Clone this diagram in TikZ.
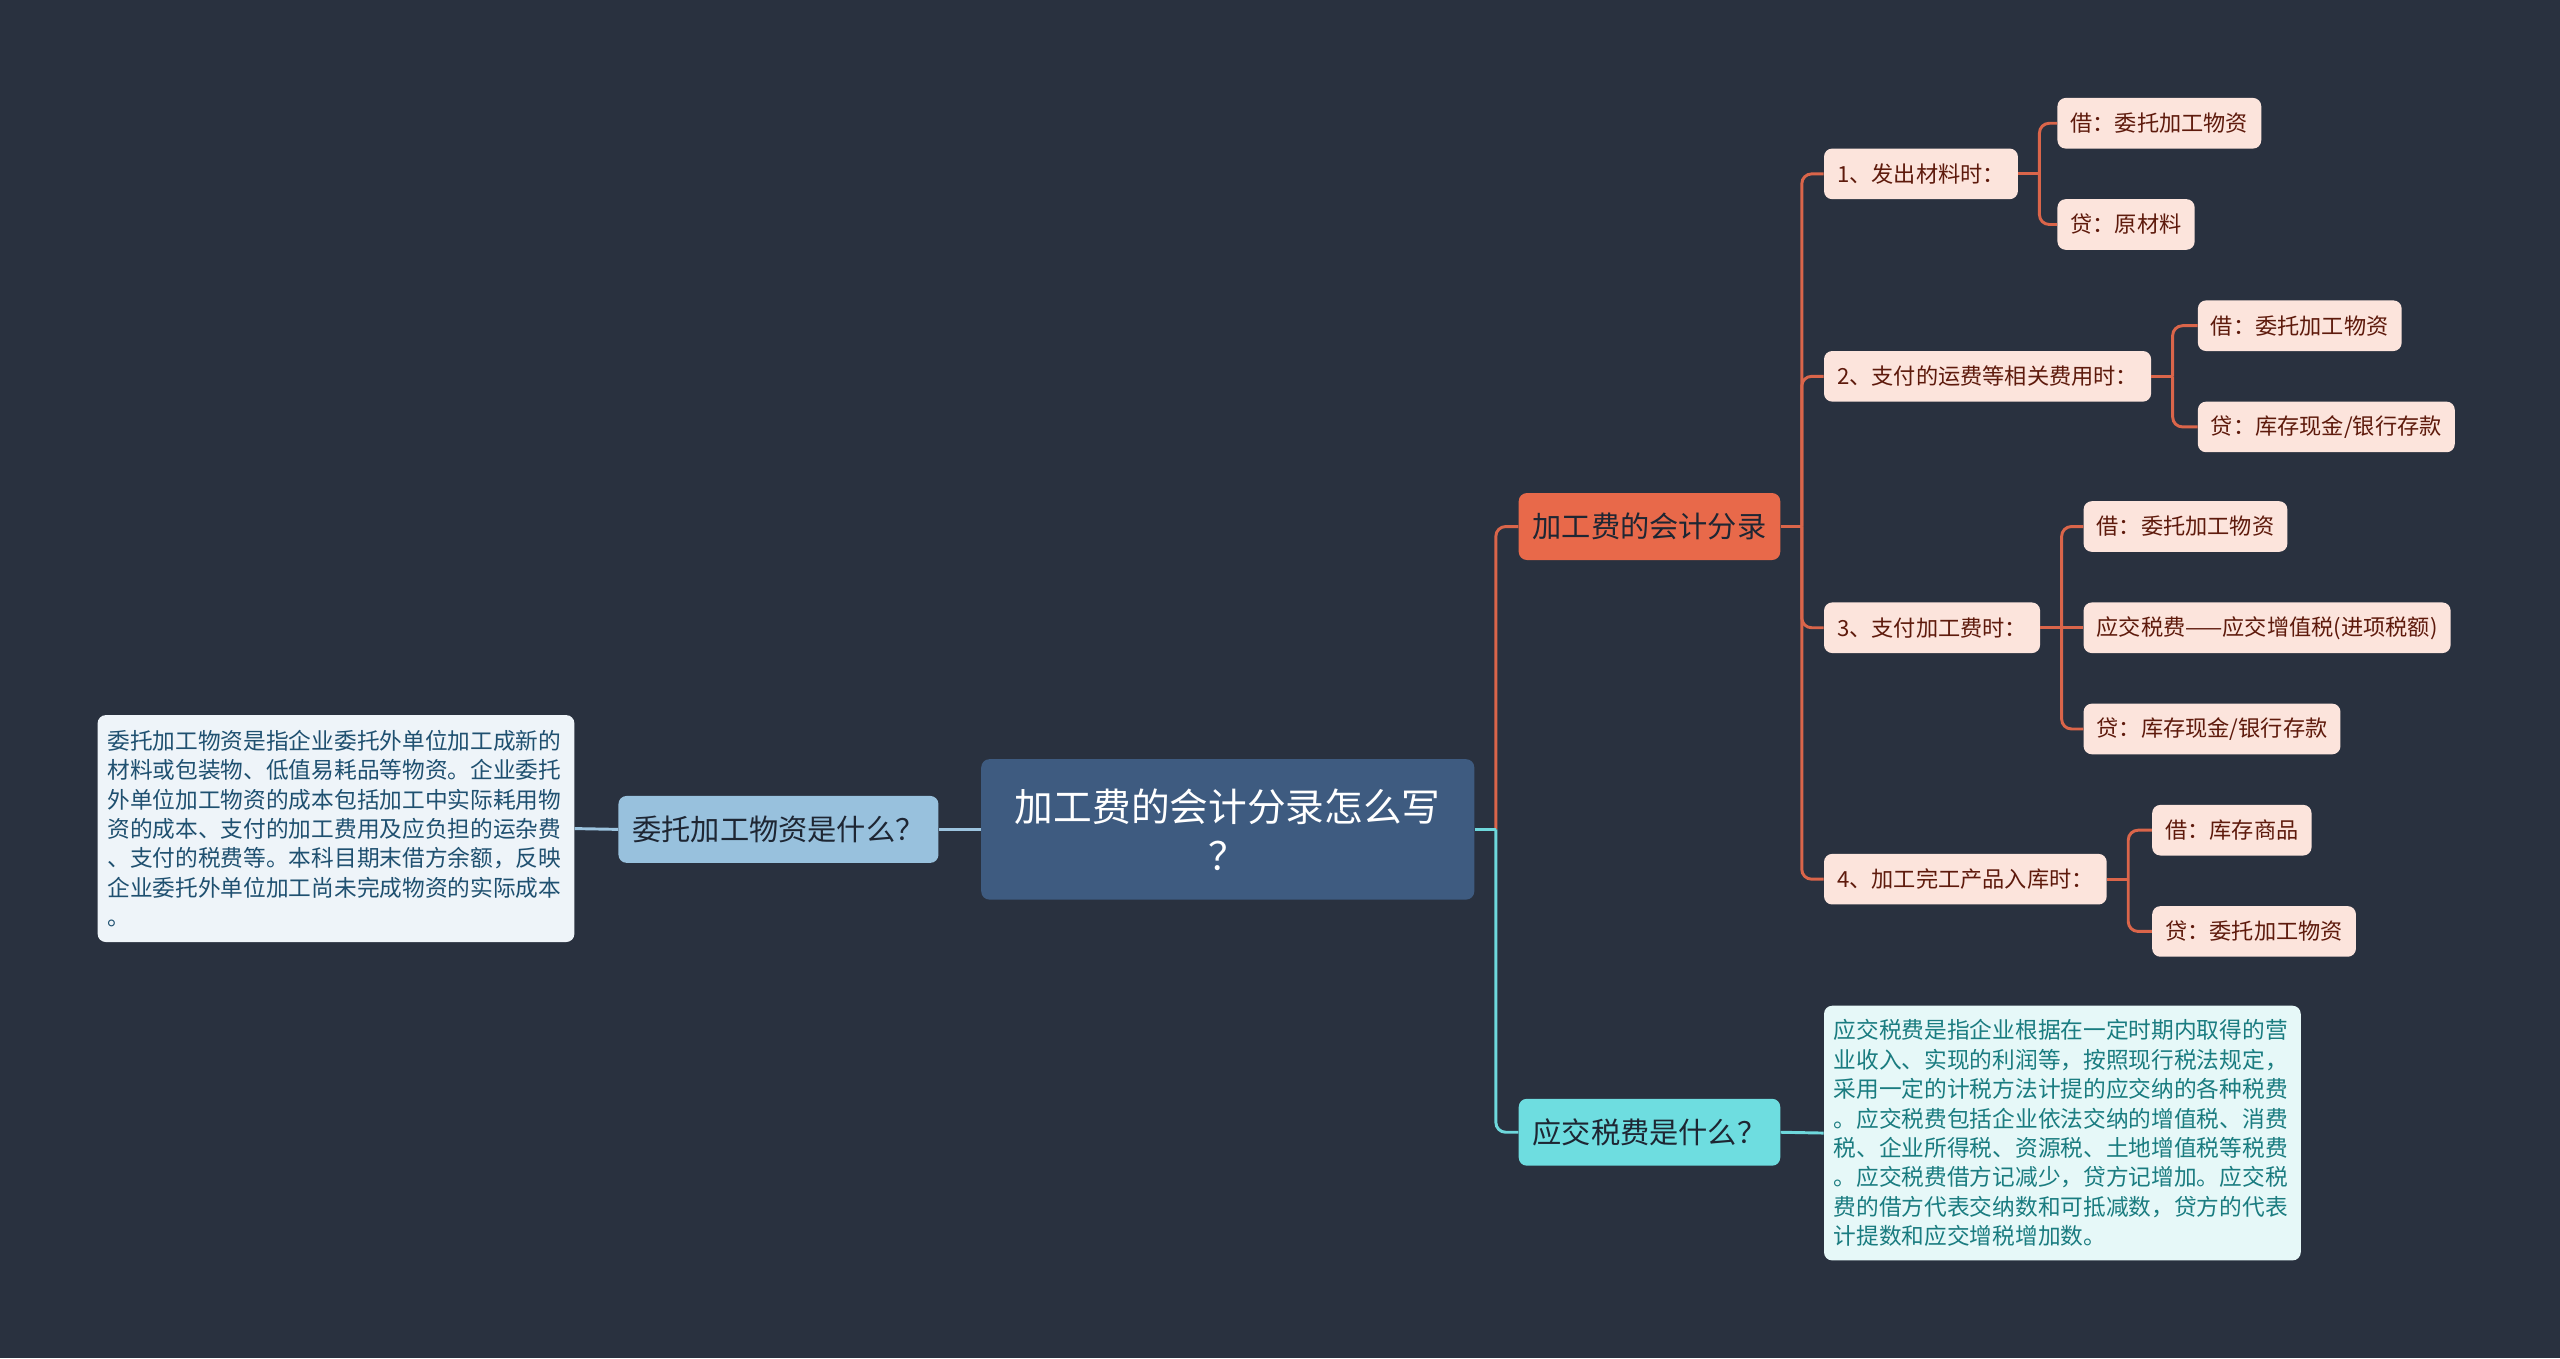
\documentclass[tikz,border=0pt]{standalone}
\usepackage{fontspec}
\setmainfont{Noto Sans CJK SC}
\usetikzlibrary{calc}
\definecolor{bg}{HTML}{29313F}
\definecolor{cfill}{HTML}{3E5B80}
\definecolor{lbfill}{HTML}{98C1DD}
\definecolor{lbline}{HTML}{9CC4DF}
\definecolor{descfill}{HTML}{EEF4F9}
\definecolor{desctext}{HTML}{1F5070}
\definecolor{ofill}{HTML}{E8694A}
\definecolor{oline}{HTML}{DA654A}
\definecolor{leaffill}{HTML}{FCE4DC}
\definecolor{leaftext}{HTML}{5E1A0C}
\definecolor{cyfill}{HTML}{6EDDE0}
\definecolor{cyline}{HTML}{6ED8DC}
\definecolor{ansfill}{HTML}{E6F8F8}
\definecolor{anstext}{HTML}{1A7C80}
\definecolor{darktext}{HTML}{1E2633}
\begin{document}
\begin{tikzpicture}[x=1pt,y=-1pt,
  base/.style={rounded corners=5pt, inner ysep=0pt},
  rootbox/.style={base, fill=cfill, text=white, minimum width=302pt, minimum height=86pt, align=center, font=\fontsize{23.7pt}{30pt}\selectfont},
  lone/.style={base, minimum height=41pt, inner xsep=8.5pt, text=darktext, font=\fontsize{17.9pt}{21pt}\selectfont},
  ltwo/.style={base, fill=leaffill, text=leaftext, minimum height=31pt, inner xsep=8pt, anchor=west, font=\fontsize{13.6pt}{16pt}\selectfont},
  desc/.style={base, text width=280pt, inner xsep=6pt, align=left, font=\fontsize{13.9pt}{18pt}\selectfont},
  oc/.style={draw=oline, line width=1.8pt, rounded corners=6pt},
  cc/.style={draw=cyline, line width=1.8pt, rounded corners=6pt},
  bc/.style={draw=lbline, line width=1.8pt}]
\fill[bg] (0,0) rectangle (1568,832);
\useasboundingbox (0,0) rectangle (1568,832);

% nodes
\node[rootbox] (root) at (752,508) {加工费的会计分录怎么写\\？};
\node[lone, fill=lbfill, anchor=east] (wt) at (575,508) {委托加工物资是什么？};
\node[desc, fill=descfill, text=desctext, anchor=east, minimum height=139pt] (wtd) at (352,507.5) {委托加工物资是指企业委托外单位加工成新的\\材料或包装物、低值易耗品等物资。企业委托\\外单位加工物资的成本包括加工中实际耗用物\\资的成本、支付的加工费用及应负担的运杂费\\、支付的税费等。本科目期末借方余额，反映\\企业委托外单位加工尚未完成物资的实际成本\\。};
\node[lone, fill=ofill, anchor=west] (jg) at (930,322.5) {加工费的会计分录};
\node[lone, fill=cyfill, anchor=west] (yj) at (930,693.5) {应交税费是什么？};
\node[desc, fill=ansfill, text=anstext, anchor=west, minimum height=156pt] (yjd) at (1117,694) {应交税费是指企业根据在一定时期内取得的营\\业收入、实现的利润等，按照现行税法规定，\\采用一定的计税方法计提的应交纳的各种税费\\。应交税费包括企业依法交纳的增值税、消费\\税、企业所得税、资源税、土地增值税等税费\\。应交税费借方记减少，贷方记增加。应交税\\费的借方代表交纳数和可抵减数，贷方的代表\\计提数和应交增税增加数。};

\node[ltwo] (a1) at (1117,106.5) {1、发出材料时：};
\node[ltwo] (a2) at (1117,230.5) {2、支付的运费等相关费用时：};
\node[ltwo] (a3) at (1117,384.5) {3、支付加工费时：};
\node[ltwo] (a4) at (1117,538.5) {4、加工完工产品入库时：};

\node[ltwo] (b11) at (1260,75.5) {借：委托加工物资};
\node[ltwo] (b12) at (1260,137.5) {贷：原材料};
\node[ltwo] (b21) at (1346,199.5) {借：委托加工物资};
\node[ltwo] (b22) at (1346,261.5) {贷：库存现金/银行存款};
\node[ltwo] (b31) at (1276,322.5) {借：委托加工物资};
\node[ltwo] (b32) at (1276,384.5) {应交税费——应交增值税(进项税额)};
\node[ltwo] (b33) at (1276,446.5) {贷：库存现金/银行存款};
\node[ltwo] (b41) at (1318,508.5) {借：库存商品};
\node[ltwo] (b42) at (1318,570.5) {贷：委托加工物资};

% junctions
\coordinate (jr) at ($(root.east)+(13,0)$);
\coordinate (jj) at ($(jg.east)+(13,0)$);
\coordinate (j1) at ($(a1.east)+(13,0)$);
\coordinate (j2) at ($(a2.east)+(13,0)$);
\coordinate (j3) at ($(a3.east)+(13,0)$);
\coordinate (j4) at ($(a4.east)+(13,0)$);

% connectors (drawn behind nodes)
\begin{scope}[on background layer/.style={}]
\end{scope}
\draw[oc] (jr) |- (jg.west);
\draw[cc] (jr) |- (yj.west);
\draw[cc] (root.east) -- (jr);
\draw[cc] (yj.east) -- (yjd.west);
\draw[bc] (root.west) -- (wt.east);
\draw[bc] (wt.west) -- (wtd.east);

\draw[oc] (jg.east) -- (jj);
\draw[oc] (jj) |- (a1.west);
\draw[oc] (jj) |- (a2.west);
\draw[oc] (jj) |- (a3.west);
\draw[oc] (jj) |- (a4.west);

\draw[oc] (a1.east) -- (j1);
\draw[oc] (j1) |- (b11.west);
\draw[oc] (j1) |- (b12.west);
\draw[oc] (a2.east) -- (j2);
\draw[oc] (j2) |- (b21.west);
\draw[oc] (j2) |- (b22.west);
\draw[oc] (a3.east) -- (j3);
\draw[oc] (j3) |- (b31.west);
\draw[oc] (j3) -- (b32.west);
\draw[oc] (j3) |- (b33.west);
\draw[oc] (a4.east) -- (j4);
\draw[oc] (j4) |- (b41.west);
\draw[oc] (j4) |- (b42.west);
\end{tikzpicture}
\end{document}
